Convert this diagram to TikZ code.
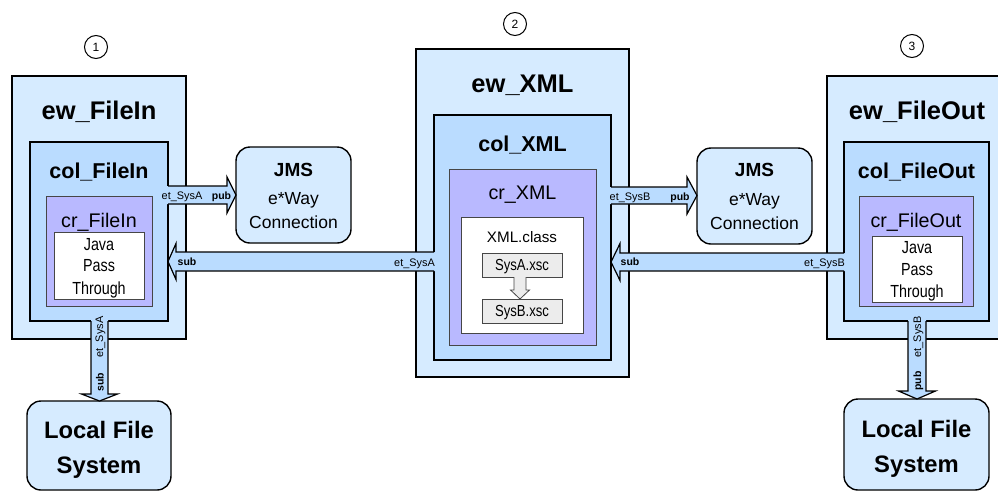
\documentclass[tikz,border=0pt]{standalone}
\usepackage{fontspec}
\setmainfont{Liberation Sans}
\newfontfamily\narrowsans[FakeStretch=0.82]{Liberation Sans}
\usetikzlibrary{calc}

\definecolor{ewfill}{RGB}{214,235,255}
\definecolor{colfill}{RGB}{186,220,255}
\definecolor{crfill}{RGB}{185,185,255}
\definecolor{xscfill}{RGB}{236,236,236}
\definecolor{greyline}{RGB}{70,70,70}

\tikzset{
  every node/.style={inner sep=0pt, outer sep=0pt},
  ewbox/.style={draw=black, line width=1.4pt, fill=ewfill},
  colbox/.style={draw=black, line width=1.4pt, fill=colfill},
  crbox/.style={draw=greyline, line width=1pt, fill=crfill},
  whitebox/.style={draw=greyline, line width=0.8pt, fill=white},
  xscbox/.style={draw=greyline, line width=0.8pt, fill=xscfill},
  endbox/.style={draw=black, line width=1.4pt, fill=ewfill, rounded corners=14pt},
  numcircle/.style={draw, circle, line width=1pt, minimum size=23pt, font=\fontsize{12}{14}\selectfont},
  bigtitle/.style={anchor=base, font=\fontsize{25.5}{30}\selectfont\bfseries},
  midtitle/.style={anchor=base, font=\fontsize{21.5}{26}\selectfont\bfseries},
  crtitle/.style={anchor=base, font=\fontsize{19.7}{24}\selectfont},
  bodytext/.style={anchor=base, font=\narrowsans\fontsize{17.5}{20}\selectfont},
  classtext/.style={anchor=base, font=\fontsize{15.2}{18}\selectfont},
  xsctext/.style={anchor=base, font=\narrowsans\fontsize{16}{18}\selectfont},
  jmshead/.style={anchor=base, font=\fontsize{19}{22}\selectfont\bfseries},
  jmstext/.style={anchor=base, font=\fontsize{17.5}{20}\selectfont},
  lfstext/.style={anchor=base, font=\fontsize{23.8}{28}\selectfont\bfseries},
  chan/.style={anchor=base, font=\fontsize{10.9}{12}\selectfont},
  pubsub/.style={anchor=base, font=\fontsize{10.5}{12}\selectfont\bfseries},
  arrowbody/.style={fill=colfill},
  arrowedge/.style={draw=black, line width=1.2pt, line join=miter},
  xscbody/.style={fill=xscfill},
  xscedge/.style={draw=greyline, line width=0.8pt, line join=miter},
}

% Horizontal block arrow that grows out of the box it starts from.
% #1 start anchor, #2 tip anchor, #3 centre y, #4 shaft half width,
% #5 head half width, #6 signed head length, #7 fill style, #8 edge style
\newcommand{\hblock}[8]{%
  \fill[#7] let \p1=#1, \p2=#2 in
    ({\x1-0.15*(#6)*1pt},{(#4-#3)*1pt}) -- ({\x2-(#6)*1pt},{(#4-#3)*1pt})
    -- ({\x2-(#6)*1pt},{(#5-#3)*1pt}) -- (\x2,{-(#3)*1pt})
    -- ({\x2-(#6)*1pt},{-(#5+#3)*1pt}) -- ({\x2-(#6)*1pt},{-(#4+#3)*1pt})
    -- ({\x1-0.15*(#6)*1pt},{-(#4+#3)*1pt}) -- cycle;
  \draw[#8] let \p1=#1, \p2=#2 in
    (\x1,{(#4-#3)*1pt}) -- ({\x2-(#6)*1pt},{(#4-#3)*1pt})
    -- ({\x2-(#6)*1pt},{(#5-#3)*1pt}) -- (\x2,{-(#3)*1pt})
    -- ({\x2-(#6)*1pt},{-(#5+#3)*1pt}) -- ({\x2-(#6)*1pt},{-(#4+#3)*1pt})
    -- (\x1,{-(#4+#3)*1pt});
}

% Downward block arrow; #3 is the centre x, #6 the head length
\newcommand{\vblock}[8]{%
  \fill[#7] let \p1=#1, \p2=#2 in
    ({(#3-#4)*1pt},{\y1+0.15*(#6)*1pt}) -- ({(#3-#4)*1pt},{\y2+(#6)*1pt})
    -- ({(#3-#5)*1pt},{\y2+(#6)*1pt}) -- ({(#3)*1pt},\y2)
    -- ({(#3+#5)*1pt},{\y2+(#6)*1pt}) -- ({(#3+#4)*1pt},{\y2+(#6)*1pt})
    -- ({(#3+#4)*1pt},{\y1+0.15*(#6)*1pt}) -- cycle;
  \draw[#8] let \p1=#1, \p2=#2 in
    ({(#3-#4)*1pt},\y1) -- ({(#3-#4)*1pt},{\y2+(#6)*1pt})
    -- ({(#3-#5)*1pt},{\y2+(#6)*1pt}) -- ({(#3)*1pt},\y2)
    -- ({(#3+#5)*1pt},{\y2+(#6)*1pt}) -- ({(#3+#4)*1pt},{\y2+(#6)*1pt})
    -- ({(#3+#4)*1pt},\y1);
}

\begin{document}
\begin{tikzpicture}[x=1pt, y=-1pt]
\useasboundingbox (0,0) rectangle (998,493);
\clip (0,0) rectangle (998,493);

% ---- e*Way FileIn ----
\node[ewbox, minimum width=174pt, minimum height=263pt] (ewA) at (99,207.5) {};
\node[colbox, minimum width=138pt, minimum height=179pt] (colA) at (99,231.5) {};
\node[crbox, minimum width=106pt, minimum height=110pt] (crA) at (99,251) {};
\node[whitebox, minimum width=90pt, minimum height=67pt] (javaA) at (99,265.5) {};
\node[endbox, minimum width=144pt, minimum height=89pt] (lfsA) at (99,445.5) {};
\node[endbox, minimum width=115pt, minimum height=96pt] (jmsA) at (293.5,195) {};
\node[numcircle] (numA) at (96,47) {1};

% ---- e*Way XML ----
\node[ewbox, minimum width=213pt, minimum height=328pt] (ewX) at (522.5,213) {};
\node[colbox, minimum width=177pt, minimum height=245pt] (colX) at (522.5,237.5) {};
\node[crbox, minimum width=147pt, minimum height=176pt] (crX) at (522.5,257) {};
\node[whitebox, minimum width=122pt, minimum height=116pt] (classX) at (522,275) {};
\node[xscbox, minimum width=80pt, minimum height=24pt] (sysA) at (522,265) {};
\node[xscbox, minimum width=80pt, minimum height=24pt] (sysB) at (522,311) {};
\node[numcircle] (numX) at (515,24) {2};

% ---- e*Way FileOut ----
\node[endbox, minimum width=115pt, minimum height=96pt] (jmsB) at (754.5,196) {};
\node[ewbox, minimum width=183pt, minimum height=263pt] (ewB) at (918.5,207.5) {};
\node[colbox, minimum width=145pt, minimum height=179pt] (colB) at (916.5,231.5) {};
\node[crbox, minimum width=114pt, minimum height=110pt] (crB) at (916,251) {};
\node[whitebox, minimum width=90pt, minimum height=66pt] (javaB) at (917,269) {};
\node[endbox, minimum width=145pt, minimum height=91pt] (lfsB) at (916.5,444.5) {};
\node[numcircle] (numB) at (912,46) {3};

% ---- block arrows ----
\hblock{(colA.east)}{(jmsA.west)}{195}{9}{18}{9}{arrowbody}{arrowedge}
\hblock{(colX.west)}{(colA.east)}{261.5}{9.5}{18}{-8}{arrowbody}{arrowedge}
\hblock{(colX.east)}{(jmsB.west)}{195.5}{8.5}{18.5}{10}{arrowbody}{arrowedge}
\hblock{(colB.west)}{(colX.east)}{262}{9}{18.5}{-9}{arrowbody}{arrowedge}
\vblock{(colA.south)}{(lfsA.north)}{99.5}{8.5}{18}{7}{arrowbody}{arrowedge}
\vblock{(colB.south)}{(lfsB.north)}{917}{9}{18.5}{8}{arrowbody}{arrowedge}
\vblock{(sysA.south)}{(sysB.north)}{520}{6}{9.5}{9}{xscbody}{xscedge}

% ---- titles ----
\node[bigtitle] (tEwA) at (99,119) {ew\_FileIn};
\node[midtitle] (tColA) at (99,178) {col\_FileIn};
\node[crtitle] (tCrA) at (99,227) {cr\_FileIn};
\node[bodytext] (tJavaA1) at (99,250) {Java};
\node[bodytext] (tJavaA2) at (99,271) {Pass};
\node[bodytext] (tJavaA3) at (99,294) {Through};
\node[jmshead] (tJmsA1) at (293.5,176) {JMS};
\node[jmstext] (tJmsA2) at (293.5,204) {e*Way};
\node[jmstext] (tJmsA3) at (293.5,228) {Connection};
\node[lfstext] (tLfsA1) at (99,438) {Local File};
\node[lfstext] (tLfsA2) at (99,473) {System};

\node[bigtitle] (tEwX) at (522.5,92) {ew\_XML};
\node[midtitle] (tColX) at (522.5,151) {col\_XML};
\node[crtitle] (tCrX) at (522.5,199) {cr\_XML};
\node[classtext] (tClass) at (522,242) {XML.class};
\node[xsctext] (tSysA) at (522,270.5) {SysA.xsc};
\node[xsctext] (tSysB) at (522,316.5) {SysB.xsc};

\node[jmshead] (tJmsB1) at (754.5,176) {JMS};
\node[jmstext] (tJmsB2) at (754.5,205) {e*Way};
\node[jmstext] (tJmsB3) at (754.5,229) {Connection};
\node[bigtitle] (tEwB) at (917,119) {ew\_FileOut};
\node[midtitle] (tColB) at (916.5,178) {col\_FileOut};
\node[crtitle] (tCrB) at (916,227) {cr\_FileOut};
\node[bodytext] (tJavaB1) at (917,253) {Java};
\node[bodytext] (tJavaB2) at (917,275) {Pass};
\node[bodytext] (tJavaB3) at (917,297) {Through};
\node[lfstext] (tLfsB1) at (916.5,437) {Local File};
\node[lfstext] (tLfsB2) at (916.5,472) {System};

% ---- arrow labels ----
\node[chan] (lPubA1) at (182,199) {et\_SysA};
\node[pubsub] (lPubA2) at (221.5,199) {pub};
\node[pubsub] (lSubA1) at (187,265) {sub};
\node[chan] (lSubA2) at (414.5,266) {et\_SysA};
\node[chan] (lPubB1) at (630,200) {et\_SysB};
\node[pubsub] (lPubB2) at (680,200) {pub};
\node[pubsub] (lSubB1) at (630,265) {sub};
\node[chan] (lSubB2) at (824.5,266) {et\_SysB};
\node[chan, rotate=90] (lDownA1) at (103,337) {et\_SysA};
\node[pubsub, rotate=90] (lDownA2) at (103.5,382) {sub};
\node[chan, rotate=90] (lDownB1) at (921,337) {et\_SysB};
\node[pubsub, rotate=90] (lDownB2) at (921,381) {pub};
\end{tikzpicture}
\end{document}
